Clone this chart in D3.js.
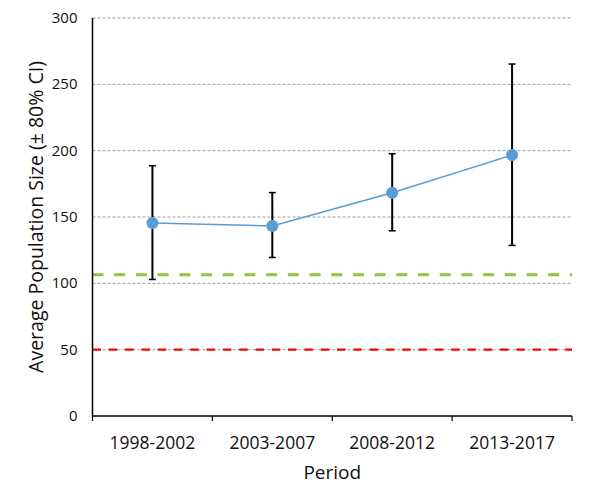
<!DOCTYPE html>
<html>
<head>
<meta charset="utf-8">
<script src="https://cdn.jsdelivr.net/npm/d3@7"></script>
<style>
  body { margin: 0; background: #fff; }
  text { font-family: "Open Sans", sans-serif; fill: #111; }
</style>
</head>
<body>
<svg id="chart" width="600" height="497"></svg>
<script>
// values
const periods = ["1998-2002", "2003-2007", "2008-2012", "2013-2017"];
const meanSize = [145.4, 143.2, 168.3, 196.7];
const upperCI = [188.6, 168.4, 197.7, 265.3];
const lowerCI = [102.9, 119.5, 139.6, 128.6];
const yTicks = [0, 50, 100, 150, 200, 250, 300];
const greenLevel = 106.5;
const redLevel = 50;

const margin = { top: 18, right: 28, bottom: 81, left: 92.5 };
const width = 600 - margin.left - margin.right;
const height = 497 - margin.top - margin.bottom;

const svg = d3.select("#chart");
const g = svg.append("g").attr("transform", `translate(${margin.left},${margin.top})`);

const x = d3.scaleBand().domain(periods).range([0, width]);
const y = d3.scaleLinear().domain([0, 300]).range([height, 0]);
const cx = d => x(d) + x.bandwidth() / 2;

// gridlines
g.selectAll(".grid").data(yTicks.filter(d => d > 0)).enter().append("line")
  .attr("x1", 0).attr("x2", width)
  .attr("y1", d => y(d)).attr("y2", d => y(d))
  .attr("stroke", "#9a9a9a").attr("stroke-width", 1)
  .attr("stroke-dasharray", "3 2");

// reference lines
g.append("line")
  .attr("x1", 0).attr("x2", width)
  .attr("y1", y(greenLevel)).attr("y2", y(greenLevel))
  .attr("stroke", "#8cc63f").attr("stroke-width", 3)
  .attr("stroke-dasharray", "11 10.7");

g.append("line")
  .attr("x1", 0).attr("x2", width)
  .attr("y1", y(redLevel)).attr("y2", y(redLevel))
  .attr("stroke", "#ff0000").attr("stroke-width", 2.3)
  .attr("stroke-dasharray", "8.5 7.8");

// axes
const xAxis = g.append("g").attr("transform", `translate(0,${height})`);
xAxis.append("line").attr("x1", 0).attr("x2", width).attr("stroke", "#000").attr("stroke-width", 1.5);
xAxis.selectAll(".tick").data(d3.range(periods.length + 1)).enter().append("line")
  .attr("x1", i => i * x.step()).attr("x2", i => i * x.step())
  .attr("y1", 0).attr("y2", 5)
  .attr("stroke", "#000").attr("stroke-width", 1.2);
xAxis.selectAll(".lab").data(periods).enter().append("text")
  .attr("x", d => cx(d)).attr("y", 33)
  .attr("text-anchor", "middle").attr("font-size", 17.5)
  .text(d => d);

const yAxis = g.append("g");
yAxis.append("line").attr("x1", 0).attr("x2", 0).attr("y1", 0).attr("y2", height)
  .attr("stroke", "#000").attr("stroke-width", 1.5);
yAxis.selectAll(".lab").data(yTicks).enter().append("text")
  .attr("x", -15).attr("y", d => y(d) + 5)
  .attr("text-anchor", "end").attr("font-size", 15)
  .text(d => d);

// axis titles
svg.append("text")
  .attr("x", margin.left + width / 2).attr("y", 479)
  .attr("text-anchor", "middle").attr("font-size", 19)
  .text("Period");
svg.append("text")
  .attr("transform", `translate(43,${margin.top + height / 2}) rotate(-90)`)
  .attr("text-anchor", "middle").attr("font-size", 19.5)
  .text("Average Population Size (\u00b1 80% CI)");

// series line
const line = d3.line().x(d => cx(d.p)).y(d => y(d.v));
const pts = periods.map((p, i) => ({ p, v: meanSize[i], lo: lowerCI[i], hi: upperCI[i] }));
g.append("path").datum(pts).attr("d", line)
  .attr("fill", "none").attr("stroke", "#5b9bd5").attr("stroke-width", 1.5);

// error bars
const eb = g.selectAll(".eb").data(pts).enter().append("g");
eb.append("line")
  .attr("x1", d => cx(d.p)).attr("x2", d => cx(d.p))
  .attr("y1", d => y(d.hi)).attr("y2", d => y(d.lo))
  .attr("stroke", "#000").attr("stroke-width", 2);
eb.append("line")
  .attr("x1", d => cx(d.p) - 3.5).attr("x2", d => cx(d.p) + 3.5)
  .attr("y1", d => y(d.hi)).attr("y2", d => y(d.hi))
  .attr("stroke", "#000").attr("stroke-width", 1.5);
eb.append("line")
  .attr("x1", d => cx(d.p) - 3.5).attr("x2", d => cx(d.p) + 3.5)
  .attr("y1", d => y(d.lo)).attr("y2", d => y(d.lo))
  .attr("stroke", "#000").attr("stroke-width", 1.5);

// markers
g.selectAll(".pt").data(pts).enter().append("circle")
  .attr("cx", d => cx(d.p)).attr("cy", d => y(d.v)).attr("r", 6)
  .attr("fill", "#5b9bd5");
</script>
</body>
</html>
